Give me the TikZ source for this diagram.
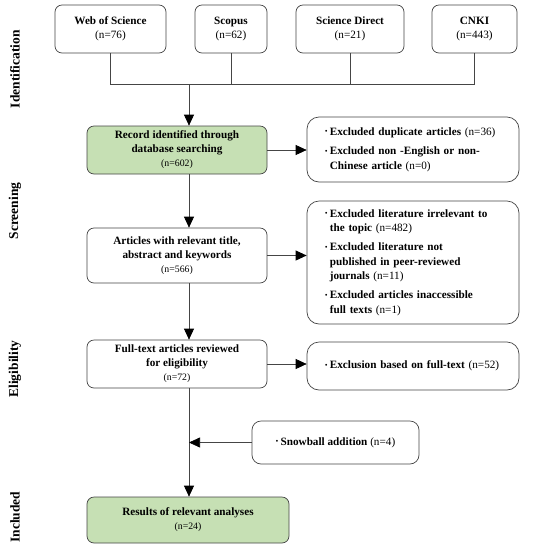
\documentclass[tikz,border=0pt]{standalone}
\usepackage{fontspec}
\setmainfont{Liberation Serif}
\usepackage{graphicx}
\usetikzlibrary{arrows.meta}
\definecolor{boxline}{HTML}{454545}
\definecolor{boxgreen}{HTML}{C6E0B4}
\newcommand{\nn}[1]{{\mdseries #1}}
\newcommand{\bul}{\raisebox{0.25ex}{\scalebox{0.6}{\textbullet}}\hspace{2.5pt}}
\newcommand{\ind}{\phantom{\bul}}
\tikzset{
  box/.style={draw=boxline, line width=0.7pt, rounded corners=7pt, align=center,
    font=\fontsize{11.2}{14}\selectfont\bfseries, inner sep=0pt, fill=white},
  gbox/.style={box, fill=boxgreen},
  exbox/.style={draw=boxline, line width=0.7pt, rounded corners=12pt, align=left,
    font=\fontsize{11.2}{14.5}\selectfont\bfseries, inner xsep=18pt, inner ysep=0pt,
    text width=176pt, fill=white},
  conn/.style={draw=boxline, line width=0.7pt},
  arr/.style={conn, -{Triangle[length=11pt,width=10pt,color=black]}},
  phase/.style={rotate=90, font=\fontsize{13.5}{14}\selectfont\bfseries}
}
\begin{document}
\begin{tikzpicture}[x=1pt,y=-1pt]
\useasboundingbox (0,0) rectangle (550,550);
% phase labels
\node[phase] (pid) at (15,69) {Identification};
\node[phase] (psc) at (15,211) {Screening};
\node[phase] (pel) at (15,369) {Eligibility};
\node[phase] (pin) at (15,517) {Included};
% sources
\node[box, minimum width=111pt, minimum height=48pt] (wos) at (110.5,29) {Web of Science\\\nn{(n=76)}};
\node[box, minimum width=72pt, minimum height=48pt] (sco) at (231,29) {Scopus\\\nn{(n=62)}};
\node[box, minimum width=108pt, minimum height=48pt] (sd) at (350,29) {Science Direct\\\nn{(n=21)}};
\node[box, minimum width=85pt, minimum height=48pt] (cnki) at (474.5,29) {CNKI\\\nn{(n=443)}};
% main column
\node[gbox, minimum width=180pt, minimum height=48pt] (rec) at (177,150) {Record identified through\\database searching\\\nn{\fontsize{9.8}{11}\selectfont(n=602)}};
\node[box, minimum width=180pt, minimum height=55pt] (art) at (177,255.5) {Articles with relevant title,\\abstract and keywords\\\nn{\fontsize{9.8}{11}\selectfont(n=566)}};
\node[box, minimum width=180pt, minimum height=48pt] (full) at (177,364) {Full-text articles reviewed\\for eligibility\\\nn{\fontsize{9.8}{11}\selectfont(n=72)}};
\node[gbox, minimum width=202pt, minimum height=46pt] (res) at (188,520) {Results of relevant analyses\\\nn{\fontsize{9.8}{11}\selectfont(n=24)}};
% exclusion boxes
\node[exbox, minimum height=65pt] (ex1) at (413,149.5) {\bul Excluded duplicate articles \nn{(n=36)}\\[5pt]
\bul Excluded non -English or non-\\\ind Chinese article \nn{(n=0)}};
\node[exbox, minimum height=123pt] (ex2) at (413,262.5) {\bul Excluded literature irrelevant to\\\ind the topic \nn{(n=482)}\\[4.5pt]
\bul Excluded literature not\\\ind published in peer-reviewed\\\ind journals \nn{(n=11)}\\[4.5pt]
\bul Excluded articles inaccessible\\\ind full texts \nn{(n=1)}};
\node[exbox, minimum height=48pt] (ex3) at (413,366) {\bul Exclusion based on full-text \nn{(n=52)}};
\node[box, minimum width=167pt, minimum height=43pt, rounded corners=9pt] (snow) at (335.5,442.5) {\bul Snowball addition \nn{(n=4)}};
% connectors
\coordinate (spine) at (189,84);
\draw[conn] (wos.south) |- (cnki.south |- spine) -- (cnki.south);
\draw[conn] (sco.south) -- (sco.south |- spine);
\draw[conn] (sd.south) -- (sd.south |- spine);
\draw[arr] (spine) -- (spine |- rec.north);
\draw[arr] (spine |- rec.south) -- (spine |- art.north);
\draw[arr] (spine |- art.south) -- (spine |- full.north);
\draw[arr] (spine |- full.south) -- (spine |- res.north);
\draw[arr] (rec.east) -- (rec.east -| ex1.west);
\draw[arr] (art.east) -- (art.east -| ex2.west);
\draw[arr] (full.east) -- (full.east -| ex3.west);
\draw[arr] (snow.west) -- (snow.west -| spine);
\end{tikzpicture}
\end{document}
